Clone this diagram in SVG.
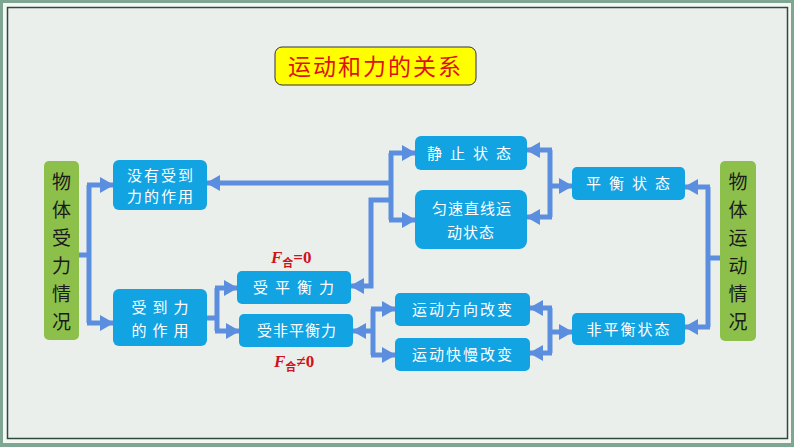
<svg xmlns="http://www.w3.org/2000/svg" width="794" height="447" viewBox="0 0 794 447">
<defs>
<style>
.b{fill:#12a3e3}
.g{fill:#8cc04a}
.t{fill:#fff;font-family:"Noto Sans CJK SC",sans-serif;font-size:15px;text-anchor:middle}
.gt{fill:#1a1a1a;font-family:"Noto Sans CJK SC",sans-serif;font-size:19px;text-anchor:middle}
.c{fill:none;stroke:#5b8ede;stroke-width:5;marker-end:url(#a)}
.l{fill:none;stroke:#5b8ede;stroke-width:5}
.f{fill:#d0121b;font-family:"Liberation Serif",serif;font-weight:bold;font-size:17px}
</style>
<marker id="a" markerUnits="userSpaceOnUse" markerWidth="14" markerHeight="16" refX="13" refY="8" orient="auto"><path d="M0,0 L14,8 L0,16 Z" fill="#5b8ede"/></marker>
</defs>
<rect x="0" y="0" width="794" height="447" fill="#7fa593"/>
<rect x="3" y="3" width="788" height="440" fill="#f4f7f4"/>
<rect x="7.5" y="7.5" width="780" height="431" fill="#ebefeb" stroke="#2d4a3c" stroke-width="1.5"/>
<g id="title"><rect x="275" y="47" width="201" height="38" rx="7" fill="#ffff00" stroke="#333" stroke-width="1"/><text x="375.5" y="75" fill="#e0100f" font-family="Noto Sans CJK SC,sans-serif" font-size="23" text-anchor="middle" letter-spacing="2">运动和力的关系</text></g>
<g id="connectors">
<path class="l" d="M79,255 H89 M89,185 V323"/>
<path class="c" d="M87,185 H113"/><path class="c" d="M87,323 H113"/>
<path class="l" d="M207,318 H217 M217,288 V331"/>
<path class="c" d="M215,288 H237"/><path class="c" d="M215,331 H239"/>
<path class="c" d="M390,200 H371 V286 H351"/>
<path class="l" d="M391,153 V220"/>
<path class="c" d="M393,183 H207"/>
<path class="c" d="M389,153 H415"/><path class="c" d="M389,220 H415"/>
<path class="c" d="M373,331 H353"/>
<path class="l" d="M373,309 V355"/>
<path class="c" d="M371,309 H395"/><path class="c" d="M371,355 H395"/>
<path class="c" d="M552,150 H527"/><path class="c" d="M552,217 H527"/>
<path class="l" d="M550,150 V217"/><path class="c" d="M550,186 H572"/>
<path class="c" d="M552,308 H530"/><path class="c" d="M552,353 H530"/>
<path class="l" d="M550,308 V353"/><path class="c" d="M550,332 H572"/>
<path class="l" d="M720,258 H708 M708,187 V327"/>
<path class="c" d="M710,187 H685"/><path class="c" d="M710,327 H685"/>
</g>
<g id="left"><rect class="g" x="44" y="161" width="35" height="179" rx="5"/><text class="gt"><tspan x="61.5" y="189">物</tspan><tspan x="61.5" y="217">体</tspan><tspan x="61.5" y="245">受</tspan><tspan x="61.5" y="273">力</tspan><tspan x="61.5" y="301">情</tspan><tspan x="61.5" y="329">况</tspan></text></g>
<g id="right"><rect class="g" x="720" y="161" width="36" height="180" rx="5"/><text class="gt"><tspan x="738" y="189">物</tspan><tspan x="738" y="217">体</tspan><tspan x="738" y="245">运</tspan><tspan x="738" y="273">动</tspan><tspan x="738" y="301">情</tspan><tspan x="738" y="329">况</tspan></text></g>
<g id="n1"><rect class="b" x="113" y="160" width="94" height="50" rx="6"/><text class="t" letter-spacing="2"><tspan x="161" y="181">没有受到</tspan><tspan x="161" y="202">力的作用</tspan></text></g>
<g id="n2"><rect class="b" x="113" y="289" width="94" height="57" rx="6"/><text class="t" letter-spacing="6"><tspan x="163" y="313">受到力</tspan><tspan x="163" y="336">的作用</tspan></text></g>
<g id="n3"><rect class="b" x="237" y="271" width="114" height="33" rx="5"/><text class="t" x="297" y="293" letter-spacing="7">受平衡力</text></g>
<g id="n4"><rect class="b" x="239" y="314" width="114" height="33" rx="5"/><text class="t" x="297" y="336" letter-spacing="1">受非平衡力</text></g>
<g id="f1"><text class="f" x="271" y="263"><tspan font-style="italic">F</tspan><tspan font-size="11" font-family="Noto Sans CJK SC,sans-serif" dy="4">合</tspan><tspan dy="-4">=0</tspan></text></g>
<g id="f2"><text class="f" x="274" y="367"><tspan font-style="italic">F</tspan><tspan font-size="11" font-family="Noto Sans CJK SC,sans-serif" dy="4">合</tspan><tspan dy="-4">≠0</tspan></text></g>
<g id="n5"><rect class="b" x="415" y="136" width="112" height="34" rx="6"/><text class="t" x="473" y="159" letter-spacing="8">静止状态</text></g>
<g id="n6"><rect class="b" x="415" y="190" width="112" height="59" rx="8"/><text class="t" letter-spacing="1"><tspan x="472" y="214">匀速直线运</tspan><tspan x="471" y="238">动状态</tspan></text></g>
<g id="n7"><rect class="b" x="395" y="293" width="135" height="33" rx="5"/><text class="t" x="463" y="315" letter-spacing="2">运动方向改变</text></g>
<g id="n8"><rect class="b" x="395" y="338" width="135" height="33" rx="5"/><text class="t" x="463" y="360" letter-spacing="2">运动快慢改变</text></g>
<g id="n9"><rect class="b" x="572" y="167" width="113" height="33" rx="5"/><text class="t" x="632" y="189" letter-spacing="8">平衡状态</text></g>
<g id="n10"><rect class="b" x="572" y="313" width="113" height="32" rx="5"/><text class="t" x="629" y="335" letter-spacing="2">非平衡状态</text></g>
</svg>
